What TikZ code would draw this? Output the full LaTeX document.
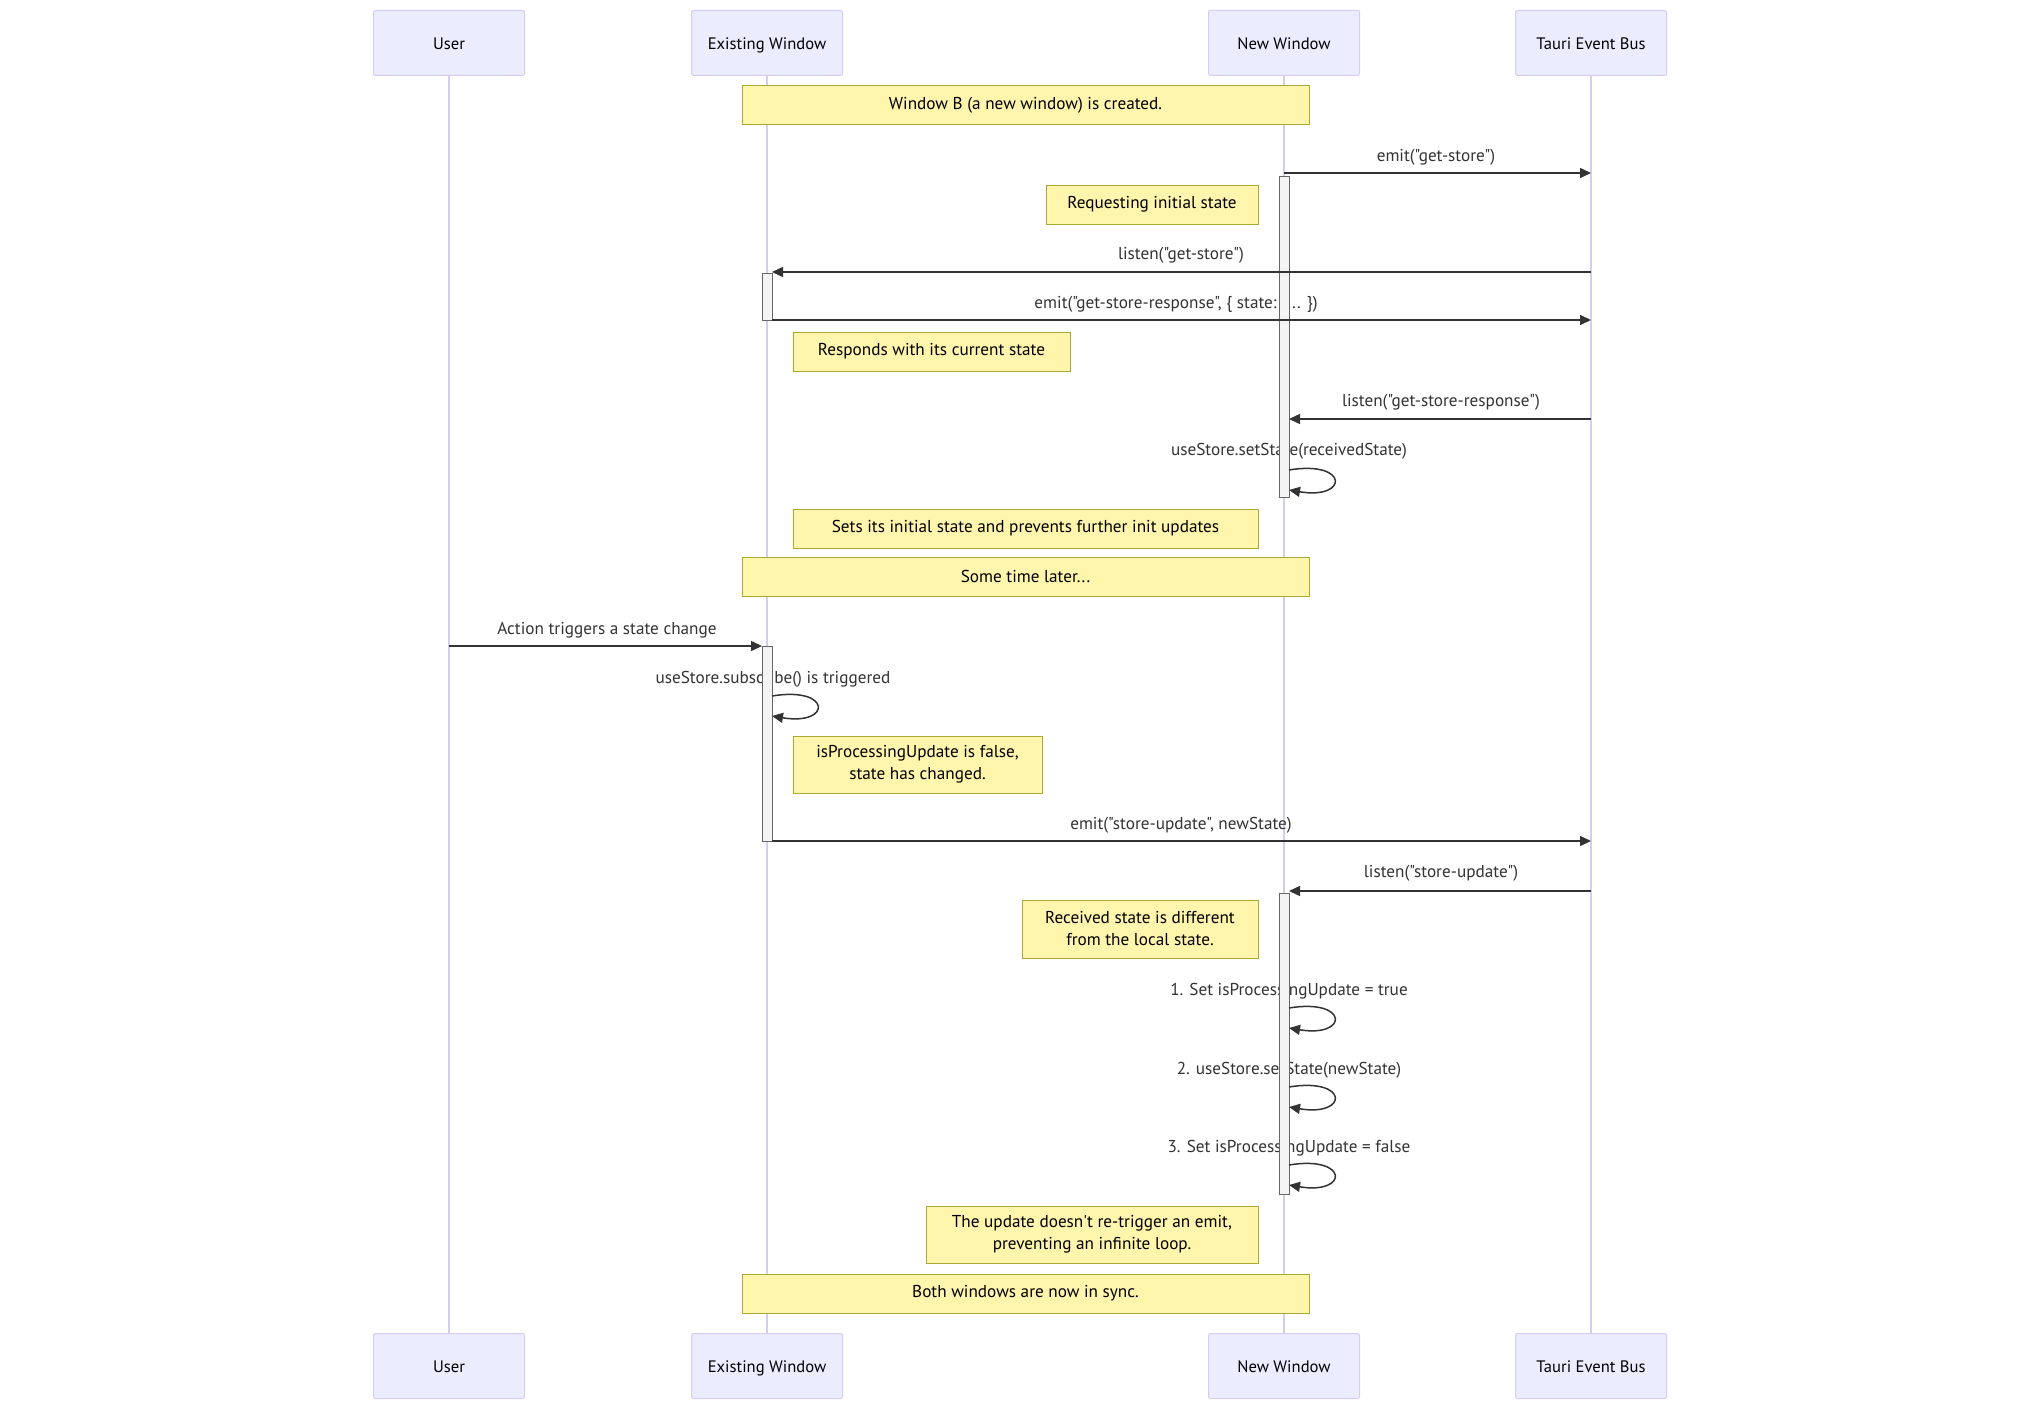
\documentclass[tikz,border=0pt]{standalone}
\usepackage{fontspec}
\setmainfont{PT Sans}[Ligatures=TeXOff]
\usetikzlibrary{arrows.meta}
\definecolor{actfill}{HTML}{ECECFF}
\definecolor{actborder}{HTML}{D6CCF2}
\definecolor{lifeline}{HTML}{D6CCF2}
\definecolor{notefill}{HTML}{FFF5AD}
\definecolor{noteborder}{HTML}{AAAA33}
\definecolor{barfill}{HTML}{F4F4F4}
\definecolor{barborder}{HTML}{666666}
\definecolor{sig}{HTML}{333333}
\begin{document}
\begin{tikzpicture}[x=1pt,y=-1pt,
  every node/.style={font=\fontsize{17.2}{22}\selectfont, inner sep=0pt},
  actor/.style={draw=actborder, fill=actfill, line width=1pt, minimum width=151pt, minimum height=65pt, rounded corners=2pt, text=black, font=\fontsize{16.6}{20}\selectfont, text height=17pt, text depth=3.5pt},
  life/.style={draw=lifeline, line width=1.5pt},
  note/.style={draw=noteborder, fill=notefill, line width=1pt, align=center, text=black},
  msg/.style={draw=sig, line width=1.5pt, -{Triangle[length=11pt,width=10pt]}},
  lbl/.style={text=sig, text height=17pt, text depth=3.5pt},
  bar/.style={draw=barborder, fill=barfill, line width=1pt},
]
\useasboundingbox[fill=white] (0,0) rectangle (2042,1410);

% actors
\node[actor] (uTop) at (449,43) {User};
\node[actor] (eTop) at (767,43) {Existing Window};
\node[actor] (nTop) at (1284,43) {New Window};
\node[actor] (tTop) at (1591,43) {Tauri Event Bus};
\node[actor] (uBot) at (449,1366) {User};
\node[actor] (eBot) at (767,1366) {Existing Window};
\node[actor] (nBot) at (1284,1366) {New Window};
\node[actor] (tBot) at (1591,1366) {Tauri Event Bus};

% lifelines
\draw[life] (uTop.south) -- (uBot.north);
\draw[life] (eTop.south) -- (eBot.north);
\draw[life] (nTop.south) -- (nBot.north);
\draw[life] (tTop.south) -- (tBot.north);

% notes
\node[note, minimum width=567pt, minimum height=39pt] (n1) at (1025.5,105.5) {Window B (a new window) is created.};
\node[note, minimum width=212pt, minimum height=39pt] (n2) at (1152,204.5) {Requesting initial state};
\node[note, minimum width=277pt, minimum height=39pt] (n3) at (931.5,351.5) {Responds with its current state};
\node[note, minimum width=465pt, minimum height=39pt] (n4) at (1025.5,528.5) {Sets its initial state and prevents further init updates};
\node[note, minimum width=567pt, minimum height=39pt] (n5) at (1025.5,576.5) {Some time later...};
\node[note, minimum width=249pt, minimum height=57pt] (n6) at (917.5,764.5) {isProcessingUpdate is false,\\state has changed.};
\node[note, minimum width=236pt, minimum height=58pt] (n7) at (1140,929) {Received state is different\\from the local state.};
\node[note, minimum width=332pt, minimum height=57pt] (n8) at (1092,1234.5) {The update doesn't re-trigger an emit,\\preventing an infinite loop.};
\node[note, minimum width=567pt, minimum height=39pt] (n9) at (1025.5,1293.5) {Both windows are now in sync.};

% message labels
\node[lbl] (l1) at (1436,155) {emit("get-store")};
\node[lbl] (l2) at (1181,253) {listen("get-store")};
\node[lbl] (l3) at (1176,302) {emit("get-store-response", \{ state: ~... \})};
\node[lbl] (l4) at (1441,400) {listen("get-store-response")};
\node[lbl] (l5) at (1289,449) {useStore.setState(receivedState)};
\node[lbl] (l6) at (607,628) {Action triggers a state change};
\node[lbl] (l7) at (773,677) {useStore.subscribe() is triggered};
\node[lbl] (l8) at (1181,823) {emit("store-update", newState)};
\node[lbl] (l9) at (1441,871) {listen("store-update")};
\node[lbl] (l10) at (1289,988.5) {1. Set isProcessingUpdate = true};
\node[lbl] (l11) at (1289,1068) {2. useStore.setState(newState)};
\node[lbl] (l12) at (1289,1146) {3. Set isProcessingUpdate = false};

% activation bars
\draw[bar] (1279,176) rectangle (1289,497.5);
\draw[bar] (762,273.5) rectangle (772,320);
\draw[bar] (762,646) rectangle (772,841);
\draw[bar] (1279,893) rectangle (1289,1194);

% message end points
\coordinate (m1a) at (1284,173);   \coordinate (m1b) at (1591,173);
\coordinate (m2a) at (1591,272);   \coordinate (m2b) at (772,272);
\coordinate (m3a) at (772,320);    \coordinate (m3b) at (1591,320);
\coordinate (m4a) at (1591,419);   \coordinate (m4b) at (1289,419);
\coordinate (s1a) at (1289,470);   \coordinate (s1b) at (1289,490);
\coordinate (m5a) at (449,646);    \coordinate (m5b) at (762,646);
\coordinate (s2a) at (772,696);    \coordinate (s2b) at (772,716);
\coordinate (m6a) at (772,841);    \coordinate (m6b) at (1591,841);
\coordinate (m7a) at (1591,891);   \coordinate (m7b) at (1289,891);
\coordinate (s3a) at (1289,1008);  \coordinate (s3b) at (1289,1028);
\coordinate (s4a) at (1289,1087);  \coordinate (s4b) at (1289,1107);
\coordinate (s5a) at (1289,1165);  \coordinate (s5b) at (1289,1185);

% messages
\draw[msg] (m1a) -- (m1b);
\draw[msg] (m2a) -- (m2b);
\draw[msg] (m3a) -- (m3b);
\draw[msg] (m4a) -- (m4b);
\draw[msg] (s1a) .. controls +(60,-10) and +(60,10) .. (s1b);
\draw[msg] (m5a) -- (m5b);
\draw[msg] (s2a) .. controls +(60,-10) and +(60,10) .. (s2b);
\draw[msg] (m6a) -- (m6b);
\draw[msg] (m7a) -- (m7b);
\draw[msg] (s3a) .. controls +(60,-10) and +(60,10) .. (s3b);
\draw[msg] (s4a) .. controls +(60,-10) and +(60,10) .. (s4b);
\draw[msg] (s5a) .. controls +(60,-10) and +(60,10) .. (s5b);
\end{tikzpicture}
\end{document}
